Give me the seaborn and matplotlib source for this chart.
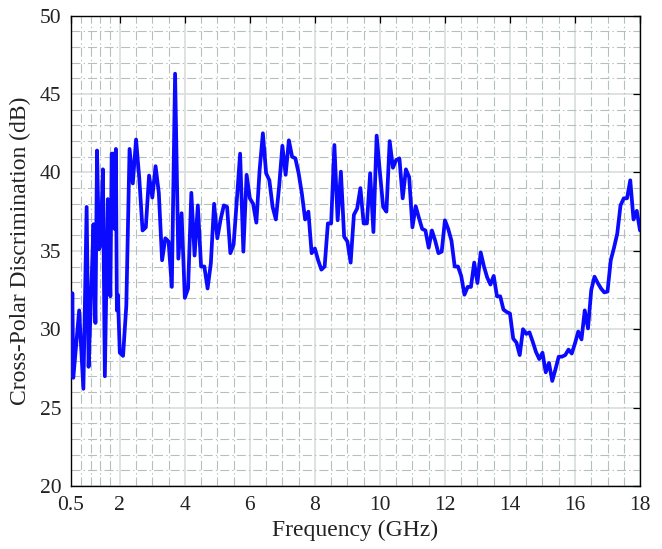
import matplotlib
matplotlib.use("Agg")
import matplotlib.pyplot as plt
from matplotlib.ticker import FixedLocator
import pandas as pd
import seaborn as sns

# Measured cross-polar discrimination versus frequency
freq_ghz = [
    0.50, 0.54, 0.57, 0.75, 0.88, 0.98, 1.04, 1.12, 1.19, 1.25,
    1.30, 1.36, 1.41, 1.48, 1.54, 1.63, 1.71, 1.75, 1.81, 1.84,
    1.88, 1.91, 1.94, 2.0,
    2.1, 2.2, 2.3, 2.4, 2.5, 2.6, 2.7, 2.8, 2.9, 3.0,
    3.1, 3.2, 3.3, 3.4, 3.5, 3.6, 3.7, 3.8, 3.9, 4.0,
    4.1, 4.2, 4.3, 4.4, 4.5, 4.6, 4.7, 4.8, 4.9, 5.0,
    5.1, 5.2, 5.3, 5.4, 5.5, 5.6, 5.7, 5.8, 5.9, 6.0,
    6.1, 6.2, 6.3, 6.4, 6.5, 6.6, 6.7, 6.8, 6.9, 7.0,
    7.1, 7.2, 7.3, 7.4, 7.5, 7.6, 7.7, 7.8, 7.9, 8.0,
    8.1, 8.2, 8.3, 8.4, 8.5, 8.6, 8.7, 8.8, 8.9, 9.0,
    9.1, 9.2, 9.3, 9.4, 9.5, 9.6, 9.7, 9.8, 9.9, 10.0,
    10.1, 10.2, 10.3, 10.4, 10.5, 10.6, 10.7, 10.8, 10.9, 11.0,
    11.1, 11.2, 11.3, 11.4, 11.5, 11.6, 11.7, 11.8, 11.9, 12.0,
    12.1, 12.2, 12.3, 12.4, 12.5, 12.6, 12.7, 12.8, 12.9, 13.0,
    13.1, 13.2, 13.3, 13.4, 13.5, 13.6, 13.7, 13.8, 13.9, 14.0,
    14.1, 14.2, 14.3, 14.4, 14.5, 14.6, 14.7, 14.8, 14.9, 15.0,
    15.1, 15.2, 15.3, 15.4, 15.5, 15.6, 15.7, 15.8, 15.9, 16.0,
    16.1, 16.2, 16.3, 16.4, 16.5, 16.6, 16.7, 16.8, 16.9, 17.0,
    17.1, 17.2, 17.3, 17.4, 17.5, 17.6, 17.7, 17.8, 17.9, 18.0,
]
xpd_db = [
    27.0, 32.3, 26.9, 31.2, 26.2, 37.8, 27.6, 32.3, 36.7, 30.4,
    41.4, 35.1, 35.4, 40.2, 27.0, 38.3, 32.1, 41.2, 41.2, 36.4,
    41.5, 31.2, 32.2, 28.5,
    28.3, 31.5, 41.5, 39.3, 42.1, 39.6, 36.3, 36.5, 39.8, 38.4,
    40.4, 38.7, 34.4, 35.8, 35.6, 32.7, 46.3, 34.5, 37.4, 32.0,
    32.6, 38.7, 34.7, 37.9, 34.0, 34.0, 32.6, 34.2, 38.0, 35.8,
    37.0, 37.9, 37.8, 34.85, 35.4, 38.25, 41.2, 34.95, 39.85, 38.35,
    38.0, 36.8, 40.15, 42.5, 39.95, 39.5, 37.8, 37.0, 39.1, 41.7,
    39.85, 42.05, 41.0, 40.9, 39.95, 38.65, 37.0, 37.5, 34.85, 35.15,
    34.4, 33.8, 34.0, 36.75, 36.75, 41.75, 36.95, 40.05, 35.9, 35.6,
    34.25, 37.3, 37.7, 39.0, 36.75, 36.75, 39.95, 36.2, 42.35, 40.0,
    37.8, 37.5, 42.0, 40.3, 40.8, 40.9, 38.35, 40.2, 39.7, 36.5,
    37.85, 37.1, 36.4, 36.3, 35.2, 36.3, 35.65, 34.85, 34.95, 36.95,
    36.4, 35.65, 34.0, 34.0, 33.4, 32.2, 32.7, 32.7, 34.25, 32.95,
    34.9, 34.0, 33.3, 32.85, 33.4, 32.1, 32.1, 31.25, 31.1, 31.0,
    29.4, 29.15, 28.35, 30.0, 29.7, 29.8, 29.2, 28.55, 28.1, 28.5,
    27.25, 27.85, 26.7, 27.45, 28.25, 28.25, 28.35, 28.7, 28.45, 29.1,
    29.85, 29.35, 31.2, 30.05, 32.5, 33.35, 32.95, 32.6, 32.35, 32.4,
    34.4, 35.2, 36.1, 37.9, 38.35, 38.35, 39.5, 37.0, 37.55, 36.3,
]

x_ticks = [0.5, 2, 4, 6, 8, 10, 12, 14, 16, 18]
x_tick_labels = ["0.5", "2", "4", "6", "8", "10", "12", "14", "16", "18"]
x_minor = [0.8, 1.1, 1.4, 1.7, 2.5, 3, 3.5, 4.5, 5, 5.5, 6.5, 7, 7.5,
           8.5, 9, 9.5, 10.5, 11, 11.5, 12.5, 13, 13.5, 14.5, 15, 15.5,
           16.5, 17, 17.5]
y_ticks = [20, 25, 30, 35, 40, 45, 50]
y_minor = [v for v in range(20, 51) if v % 5 != 0]

sns.set_theme(style="white")
plt.rcParams["font.family"] = ["Liberation Serif", "DejaVu Serif"]
plt.rcParams["lines.scale_dashes"] = False

df = pd.DataFrame({"Frequency (GHz)": freq_ghz, "XPD (dB)": xpd_db})

fig = plt.figure(figsize=(6.62, 5.49), dpi=100)
ax = fig.add_axes([0.1073, 0.1148, 0.8595, 0.8566])

ax.set_xlim(0.5, 18)
ax.set_ylim(20, 50)

# grid: solid major lines, dash-dot minor lines
for xv in x_ticks:
    ax.axvline(xv, color="#dbe0df", lw=1.3, zorder=0)
for yv in y_ticks:
    ax.axhline(yv, color="#dbe0df", lw=1.3, zorder=0)
minor_style = dict(color="#b3c0bd", lw=0.8, zorder=0,
                   linestyle=(0, (6.5, 2.2, 1.0, 2.2)))
for xv in x_minor:
    ax.axvline(xv, **minor_style)
for yv in y_minor:
    ax.axhline(yv, **minor_style)

sns.lineplot(data=df, x="Frequency (GHz)", y="XPD (dB)", ax=ax,
             color="#0a0aff", linewidth=2.7, zorder=3)

ax.xaxis.set_major_locator(FixedLocator(x_ticks))
ax.set_xticklabels(x_tick_labels)
ax.yaxis.set_major_locator(FixedLocator(y_ticks))
ax.tick_params(direction="in", length=5, width=0.9, color="black",
               top=True, right=True, labelsize=15.5, pad=7,
               labelcolor="#222222")

for sp in ax.spines.values():
    sp.set_color("black")
    sp.set_linewidth(1.0)
    sp.set_visible(True)

ax.set_xlabel("Frequency (GHz)", fontsize=17, color="#222222", labelpad=4)
ax.set_ylabel("Cross-Polar Discrimination (dB)", fontsize=17,
              color="#222222", labelpad=6)

fig.savefig("out.png", dpi=100)
